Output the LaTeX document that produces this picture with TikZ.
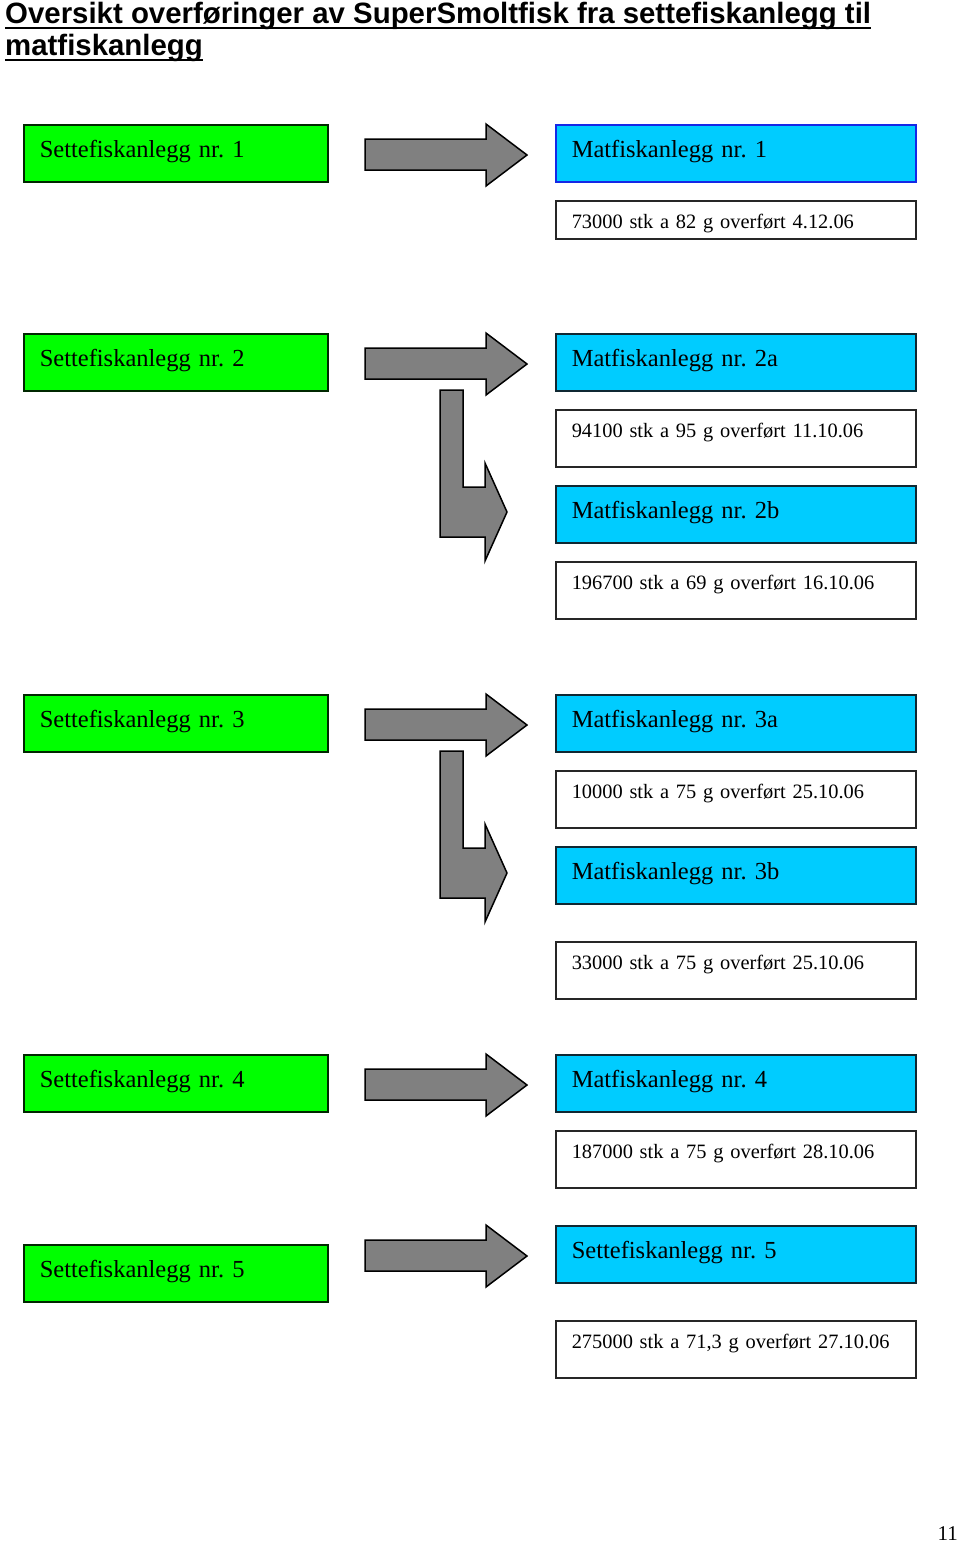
\documentclass[tikz,border=0pt]{standalone}
\usepackage{fontspec}
\setmainfont{Liberation Serif}
\newfontfamily\headfont{Liberation Sans}
\frenchspacing
\definecolor{settegreen}{RGB}{0,255,0}
\definecolor{settegreenline}{RGB}{0,40,0}
\definecolor{matblue}{RGB}{0,204,255}
\definecolor{matblueline}{RGB}{15,40,50}
\definecolor{firstblueline}{RGB}{20,40,230}
\definecolor{arrowgray}{RGB}{128,128,128}

\begin{document}
\begin{tikzpicture}
    [
      x=1pt, y=-1pt,
      sette/.style={draw=settegreenline, fill=settegreen, line width=1.5pt, anchor=north west,
        minimum width=304pt, minimum height=57pt, text width=272pt, inner xsep=16pt, inner ysep=0pt,
        align=left, text height=17pt, text depth=8pt, font=\fontsize{24.5}{30}\selectfont},
      mat/.style={sette, draw=matblueline, fill=matblue, minimum width=360pt, text width=328pt},
      data/.style={draw=black!85, fill=white, line width=1.5pt, anchor=north west,
        minimum width=360pt, minimum height=57pt, text width=328pt, inner xsep=16pt, inner ysep=0pt,
        align=left, text height=14pt, text depth=15pt, font=\fontsize{20.4}{25}\selectfont},
      blockarrow/.style={draw=black, fill=arrowgray, line width=1.5pt, line join=miter},
      headline/.style={anchor=base west, inner sep=0pt, font=\headfont\bfseries\fontsize{29.4}{34}\selectfont},
      uline/.style={draw, line width=2.5pt}
    ]
    \useasboundingbox (0,0) rectangle (960,1543);

    % title
    \node (title-1) [headline] at (5,23) {Oversikt overføringer av SuperSmoltfisk fra settefiskanlegg til};
    \node (title-2) [headline] at (5,55) {matfiskanlegg};
    \draw [uline] ([yshift=-5pt]title-1.base west) -- ([yshift=-5pt]title-1.base east);
    \draw [uline] ([yshift=-5pt]title-2.base west) -- ([yshift=-5pt]title-2.base east);

    % row 1
    \node (sette-1) [sette] at (23,124) {Settefiskanlegg nr. 1};
    \node (mat-1) [mat, draw=firstblueline] at (555,124) {Matfiskanlegg nr. 1};
    \node (data-1) [data, minimum height=38pt, text height=19pt, text depth=1pt] at (555,200) {73000 stk a 82 g overført 4.12.06};
    \draw [blockarrow, shift={(0,124)}] (365,15) -- (486,15) -- (486,0) -- (527,31) -- (486,62) -- (486,46) -- (365,46) -- cycle;

    % row 2
    \node (sette-2) [sette] at (23,333) {Settefiskanlegg nr. 2};
    \node (mat-2a) [mat] at (555,333) {Matfiskanlegg nr. 2a};
    \node (data-2a) [data] at (555,409) {94100 stk a 95 g overført 11.10.06};
    \node (mat-2b) [mat] at (555,485) {Matfiskanlegg nr. 2b};
    \node (data-2b) [data] at (555,561) {196700 stk a 69 g overført 16.10.06};
    \draw [blockarrow, shift={(0,333)}] (365,15) -- (486,15) -- (486,0) -- (527,31) -- (486,62) -- (486,46) -- (365,46) -- cycle;
    \draw [blockarrow, shift={(0,333)}] (440,57) -- (463,57) -- (463,154) -- (485,154) -- (485,130) -- (507,179) -- (485,228) -- (485,204) -- (440,204) -- cycle;

    % row 3
    \node (sette-3) [sette] at (23,694) {Settefiskanlegg nr. 3};
    \node (mat-3a) [mat] at (555,694) {Matfiskanlegg nr. 3a};
    \node (data-3a) [data] at (555,770) {10000 stk a 75 g overført 25.10.06};
    \node (mat-3b) [mat] at (555,846) {Matfiskanlegg nr. 3b};
    \node (data-3b) [data] at (555,941) {33000 stk a 75 g overført 25.10.06};
    \draw [blockarrow, shift={(0,694)}] (365,15) -- (486,15) -- (486,0) -- (527,31) -- (486,62) -- (486,46) -- (365,46) -- cycle;
    \draw [blockarrow, shift={(0,694)}] (440,57) -- (463,57) -- (463,154) -- (485,154) -- (485,130) -- (507,179) -- (485,228) -- (485,204) -- (440,204) -- cycle;

    % row 4
    \node (sette-4) [sette] at (23,1054) {Settefiskanlegg nr. 4};
    \node (mat-4) [mat] at (555,1054) {Matfiskanlegg nr. 4};
    \node (data-4) [data] at (555,1130) {187000 stk a 75 g overført 28.10.06};
    \draw [blockarrow, shift={(0,1054)}] (365,15) -- (486,15) -- (486,0) -- (527,31) -- (486,62) -- (486,46) -- (365,46) -- cycle;

    % row 5
    \node (sette-5) [sette] at (23,1244) {Settefiskanlegg nr. 5};
    \node (mat-5) [mat] at (555,1225) {Settefiskanlegg nr. 5};
    \node (data-5) [data] at (555,1320) {275000 stk a 71,3 g overført 27.10.06};
    \draw [blockarrow, shift={(0,1225)}] (365,15) -- (486,15) -- (486,0) -- (527,31) -- (486,62) -- (486,46) -- (365,46) -- cycle;

    % page number
    \node (page) [anchor=base east, inner sep=0pt, font=\fontsize{21}{25}\selectfont] at (958,1540) {11};
  \end{tikzpicture}
\end{document}
